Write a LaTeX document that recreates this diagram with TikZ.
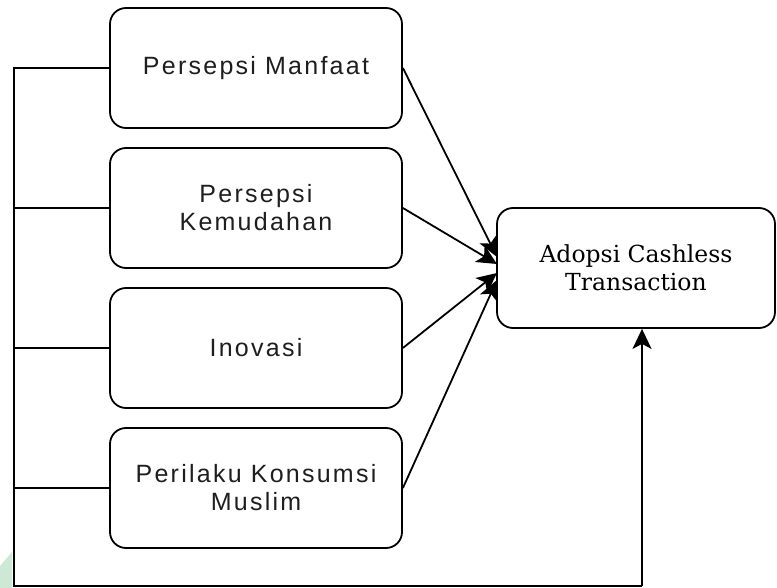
\documentclass[tikz,border=0pt]{standalone}
\usepackage{fontspec}
\setmainfont{Liberation Sans}
\newfontfamily\boxfont[LetterSpace=9]{Liberation Sans}
\newfontfamily\serifbox{DejaVu Serif}
\usetikzlibrary{arrows.meta,calc}
\definecolor{wmgreen}{RGB}{205,232,212}
\definecolor{txtgray}{RGB}{30,30,30}
\tikzset{
  varbox/.style={draw, line width=1.8pt, rounded corners=16pt, minimum width=292pt, minimum height=120pt, align=center, inner sep=0pt, text=txtgray, font=\boxfont\fontsize{25}{28}\selectfont},
  outbox/.style={draw, line width=1.8pt, rounded corners=16pt, minimum width=278pt, minimum height=120pt, align=center, inner sep=0pt, font=\serifbox\fontsize{23.5}{28}\selectfont},
  conn/.style={line width=1.8pt},
  bigtip/.tip={Stealth[length=20pt,width=19pt,inset=5pt]},
  arr/.style={line width=1.8pt, -bigtip}
}
\begin{document}
\begin{tikzpicture}[x=1pt,y=-1pt]
\useasboundingbox (0,0) rectangle (777,588);
\fill[wmgreen] (0,566) -- (12,552) -- (12,588) -- (0,588) -- cycle;
\node[varbox] (b1) at (256,68) {Persepsi Manfaat};
\node[varbox] (b2) at (256,208) {Persepsi\\Kemudahan};
\node[varbox] (b3) at (256,348) {Inovasi};
\node[varbox] (b4) at (256,488) {Perilaku Konsumsi\\Muslim};
\node[outbox] (y) at (636,268) {Adopsi Cashless\\Transaction};
\coordinate (t1) at (497,257);
\coordinate (t2) at (497,264);
\coordinate (t3) at (497,273);
\coordinate (t4) at (497,280);
\draw[arr] (b1.east) -- (t1);
\draw[arr] (b2.east) -- (t2);
\draw[arr] (b3.east) -- (t3);
\draw[arr] (b4.east) -- (t4);
\coordinate (lt) at (14,68);
\coordinate (lb) at (14,586);
\coordinate (rb) at (642,586);
\draw[conn] (b1.west) -- (lt) -- (lb) -- (rb);
\draw[arr] (rb) -- (y.south -| rb);
\draw[conn] (b2.west) -- (b2.west -| lt);
\draw[conn] (b3.west) -- (b3.west -| lt);
\draw[conn] (b4.west) -- (b4.west -| lt);
\end{tikzpicture}
\end{document}
